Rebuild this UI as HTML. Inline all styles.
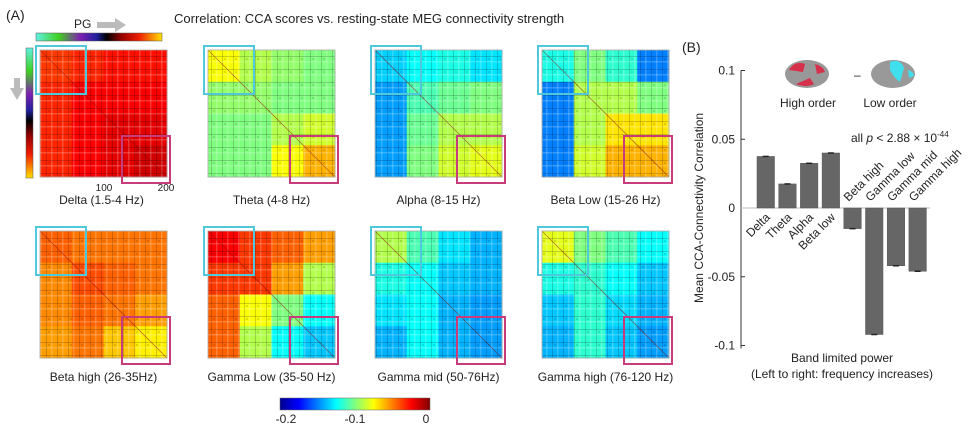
<!DOCTYPE html>
<html><head><meta charset="utf-8">
<style>
body{margin:0;background:#fff;width:974px;height:424px;overflow:hidden;font-family:"Liberation Sans",Arial,sans-serif;}
svg{position:absolute;left:0;top:0}
text{font-family:"Liberation Sans",Arial,sans-serif;fill:#222}
</style></head>
<body>
<svg id="fig" width="974" height="424" viewBox="0 0 974 424">
<defs>
<linearGradient id="pg" x1="0" x2="1" y1="0" y2="0">
<stop offset="0" stop-color="#5ff0e0"/><stop offset="0.18" stop-color="#40d020"/><stop offset="0.35" stop-color="#8020b0"/><stop offset="0.48" stop-color="#2020a0"/><stop offset="0.56" stop-color="#000"/><stop offset="0.68" stop-color="#900"/><stop offset="0.82" stop-color="#f02000"/><stop offset="1" stop-color="#ffe000"/>
</linearGradient>
<linearGradient id="pgv" x1="0" x2="0" y1="0" y2="1">
<stop offset="0" stop-color="#5ff0e0"/><stop offset="0.18" stop-color="#40d020"/><stop offset="0.35" stop-color="#8020b0"/><stop offset="0.48" stop-color="#2020a0"/><stop offset="0.56" stop-color="#000"/><stop offset="0.68" stop-color="#900"/><stop offset="0.82" stop-color="#f02000"/><stop offset="1" stop-color="#ffe000"/>
</linearGradient>
<linearGradient id="jet" x1="0" x2="1">
<stop offset="0" stop-color="#00008f"/><stop offset="0.125" stop-color="#0000ff"/><stop offset="0.375" stop-color="#00ffff"/><stop offset="0.625" stop-color="#ffff00"/><stop offset="0.875" stop-color="#ff0000"/><stop offset="1" stop-color="#800000"/>
</linearGradient>
<pattern id="tex" width="11" height="13" patternUnits="userSpaceOnUse">
<rect x="2" y="0" width="1" height="13" fill="#000" opacity="0.18"/>
<rect x="7" y="0" width="1.5" height="13" fill="#fff" opacity="0.2"/>
<rect x="0" y="4" width="11" height="1" fill="#000" opacity="0.18"/>
<rect x="0" y="9" width="11" height="1.5" fill="#fff" opacity="0.2"/>
<rect x="4" y="6" width="2" height="2" fill="#000" opacity="0.12"/>
</pattern>
</defs>
<text x="6" y="20" font-size="14">(A)</text>
<text x="174" y="23" font-size="13">Correlation: CCA scores vs. resting-state MEG connectivity strength</text>
<text x="74" y="28" font-size="12">PG</text>
<path d="M97 22 h18 v-4 l11 7 l-11 7 v-4 h-18z" fill="#bbb"/>
<rect x="36" y="33" width="126" height="8" fill="url(#pg)" stroke="#555" stroke-width="0.5"/>
<rect x="26" y="48" width="7" height="130" fill="url(#pgv)" stroke="#555" stroke-width="0.5"/>
<path d="M14 78 h6 v10 h4 l-7 12 l-7 -12 h4z" fill="#bbb"/>
<g id="mats"></g>
<text x="104" y="191" font-size="10" text-anchor="middle">100</text>
<text x="166" y="191" font-size="10" text-anchor="middle">200</text>
<rect x="280" y="398" width="150" height="12" fill="url(#jet)" stroke="#666" stroke-width="0.5"/>
<text x="286" y="423" font-size="12" text-anchor="middle">-0.2</text>
<text x="355" y="423" font-size="12" text-anchor="middle">-0.1</text>
<text x="426" y="423" font-size="12" text-anchor="middle">0</text>
<text x="682" y="52" font-size="14">(B)</text>
<g>
<ellipse cx="807" cy="74" rx="22" ry="14" fill="#999"/>
<path d="M789 70 q6 -10 16 -6 l-2 8z M815 64 q8 2 10 8 l-8 2z M796 84 q10 4 18 0 l-4 -6z" fill="#d6304a"/>
</g>
<text x="854" y="79" font-size="12">–</text>
<g>
<ellipse cx="893" cy="74" rx="22" ry="14" fill="#999"/>
<path d="M890 62 q10 -4 14 6 l-4 14 q-6 -4 -10 -12z M908 70 q6 2 6 6 l-5 2z" fill="#3fdfee"/>
</g>
<text x="808" y="107" font-size="12" text-anchor="middle">High order</text>
<text x="890" y="107" font-size="12" text-anchor="middle">Low order</text>
<text x="851" y="142" font-size="12">all <tspan font-style="italic">p</tspan> &lt; 2.88 × 10<tspan font-size="8" dy="-5">-44</tspan></text>
<g id="bars"></g>
<text x="842" y="362" font-size="12" text-anchor="middle">Band limited power</text>
<text x="842" y="378" font-size="12" text-anchor="middle">(Left to right: frequency increases)</text>
<text transform="translate(703,208) rotate(-90)" font-size="12" text-anchor="middle">Mean CCA-Connectivity Correlation</text>
</svg>
<script>
// ---- matrix data (estimated block means, normalized 0..1 on colorbar -0.2..0) ----
const matNames = ["Delta (1.5-4 Hz)","Theta (4-8 Hz)","Alpha (8-15 Hz)","Beta Low (15-26 Hz)","Beta high (26-35Hz)","Gamma Low (35-50 Hz)","Gamma mid (50-76Hz)","Gamma high (76-120 Hz)"];
const matDelta=[[0.82,0.84,0.86,0.86],[0.84,0.88,0.88,0.88],[0.84,0.88,0.9,0.9],[0.84,0.88,0.9,0.92]];
const matTheta=[[0.62,0.55,0.52,0.5],[0.52,0.52,0.5,0.5],[0.5,0.5,0.55,0.58],[0.5,0.5,0.62,0.7]];
const matAlpha=[[0.33,0.38,0.4,0.35],[0.28,0.45,0.48,0.5],[0.28,0.48,0.55,0.55],[0.28,0.5,0.58,0.6]];
const matBetaLow=[[0.4,0.5,0.42,0.25],[0.25,0.55,0.55,0.5],[0.25,0.55,0.65,0.65],[0.25,0.58,0.7,0.7]];
const matBetaHigh=[[0.78,0.76,0.76,0.76],[0.74,0.8,0.78,0.76],[0.74,0.78,0.76,0.72],[0.72,0.76,0.68,0.64]];
const matGammaLow=[[0.88,0.82,0.78,0.72],[0.82,0.82,0.72,0.55],[0.78,0.62,0.5,0.38],[0.78,0.55,0.38,0.32]];
const matGammaMid=[[0.55,0.45,0.35,0.3],[0.4,0.38,0.32,0.3],[0.35,0.38,0.3,0.28],[0.3,0.38,0.3,0.28]];
const matGammaHigh=[[0.6,0.5,0.45,0.38],[0.4,0.42,0.38,0.32],[0.32,0.42,0.34,0.3],[0.3,0.42,0.32,0.28]];
const matData=[matDelta,matTheta,matAlpha,matBetaLow,matBetaHigh,matGammaLow,matGammaMid,matGammaHigh];
// ---- bar data ----
const bandCats=["Delta","Theta","Alpha","Beta low","Beta high","Gamma low","Gamma mid","Gamma high"];
const bandVals=[0.0375,0.0175,0.0325,0.040,-0.015,-0.092,-0.042,-0.046];
const yTicks=[0.1,0.05,0,-0.05,-0.1];
const yTickLabels=["0.1","0.05","0","-0.05","-0.1"];

const NS="http://www.w3.org/2000/svg";
function mk(t,a,p){const e=document.createElementNS(NS,t);for(const k in a)e.setAttribute(k,a[k]);p.appendChild(e);return e;}
function jet(t){
  const f=(x)=>Math.max(0,Math.min(1,x));
  const r=f(Math.min(4*t-1.5,-4*t+4.5)),g=f(Math.min(4*t-0.5,-4*t+3.5)),b=f(Math.min(4*t+0.5,-4*t+2.5));
  return `rgb(${Math.round(r*255)},${Math.round(g*255)},${Math.round(b*255)})`;
}
const mats=document.getElementById('mats');
const colX=[40,208,375,542], rowY=[50,231], S=127;
matData.forEach((m,i)=>{
  const x0=colX[i%4], y0=rowY[Math.floor(i/4)];
  const g=mk('g',{},mats);
  
  
  const n=m.length, c=S/n;
  m.forEach((row,r)=>row.forEach((v,k)=>{
    const cell=mk('rect',{x:x0+k*c,y:y0+r*c,width:c+0.5,height:c+0.5,fill:jet(v)},g);
    
    
  }));
  mk('rect',{x:x0,y:y0,width:S,height:S,fill:'url(#tex)'},g);
  mk('line',{x1:x0,y1:y0,x2:x0+S,y2:y0+S,stroke:'#800',"stroke-width":0.8,opacity:0.5},g);
  mk('rect',{x:x0,y:y0,width:S,height:S,fill:'none',stroke:'#aaa',"stroke-width":0.8},g);
  const cb=mk('rect',{x:x0-4,y:y0-4,width:50,height:48,fill:'none',stroke:'#4fc8dc',"stroke-width":2},g);
  
  
  const mb=mk('rect',{x:x0+82,y:y0+86,width:48,height:47,fill:'none',stroke:'#c83c7c',"stroke-width":2},g);
  
  
  const lbl=mk('text',{x:x0+S/2+(i===0?-2:0),y:(i<4?204:381),"font-size":12,"text-anchor":"middle"},g);
  lbl.textContent=matNames[i];
  
  
});
// ---- bar chart ----
const bars=document.getElementById('bars');
const axX=741, y0px=208, pxPer=1375;
const yS=v=>y0px-v*pxPer;
const xS=i=>757+i*21.7;
const bw=17.5;
const ax=mk('line',{x1:axX,y1:yS(0.1),x2:axX,y2:yS(-0.1)+3,stroke:'#333',"stroke-width":1},bars);


yTicks.forEach((t,i)=>{
  mk('line',{x1:axX,y1:yS(t),x2:axX+4,y2:yS(t),stroke:'#333'},bars);
  const tl=mk('text',{x:axX-6,y:yS(t)+4,"font-size":12,"text-anchor":"end"},bars);
  tl.textContent=yTickLabels[i];
  
  
});
const zl=mk('line',{x1:axX,y1:yS(0),x2:930,y2:yS(0),stroke:'#bbb',"stroke-width":1},bars);


bandVals.forEach((v,i)=>{
  const x=xS(i), top=Math.min(yS(v),yS(0)), h=Math.abs(yS(v)-yS(0));
  const b=mk('rect',{x:x,y:top,width:bw,height:h,fill:'#666',stroke:'#555',"stroke-width":0.5},bars);
  
  
  mk('line',{x1:x+bw/2-3,y1:yS(v),x2:x+bw/2+3,y2:yS(v),stroke:'#222',"stroke-width":1.5},bars);
  const cx=x+bw/2+2;
  let tx,ty;
  if(v>=0){tx=cx;ty=yS(0)+10;}else{tx=cx-6;ty=yS(0)-6;}
  const t=mk('text',{x:0,y:0,"font-size":12,"text-anchor":v>=0?"end":"start",transform:`translate(${v>=0?tx+3:tx},${ty}) rotate(-45)`},bars);
  t.textContent=bandCats[i];
  
  
});
</script>
</body></html>
